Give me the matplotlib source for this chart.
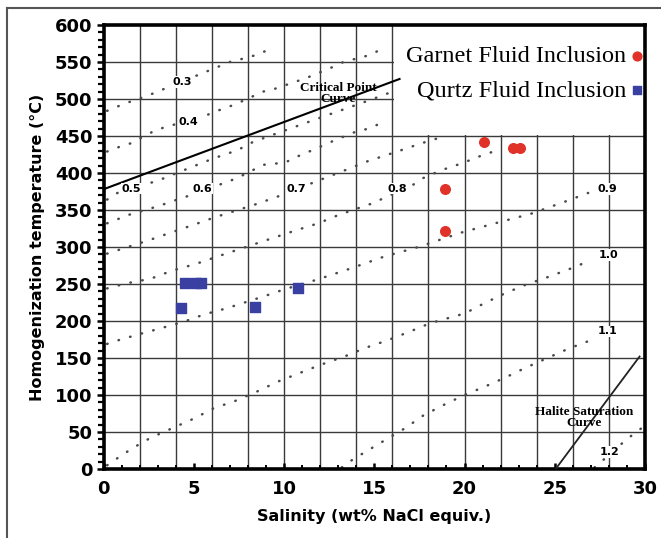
import matplotlib.pyplot as plt
from matplotlib.patches import Rectangle
from matplotlib.lines import Line2D
from matplotlib.ticker import MultipleLocator

# fluid inclusion data
garnet_sal = [18.9, 18.9, 21.1, 22.7, 23.1]
garnet_th = [321, 379, 442, 434, 434]
quartz_sal = [4.5, 5.1, 5.4, 4.3, 8.4, 10.8]
quartz_th = [251, 251, 251, 218, 219, 245]

# density isochores (g/cm3)
iso_03_x = [0.2, 1.2, 2.4, 3.8, 5.7, 7.0, 7.65, 8.4, 9.0]
iso_03_t = [484, 494, 504, 518, 537, 550, 554, 559, 565]
iso_04_x = [0.2, 0.85, 1.5, 2.9, 3.3, 5.7, 6.3, 6.9, 7.5, 8.85, 9.4, 11.2, 12.5, 13.3, 14.7, 15.3]
iso_04_t = [429, 435, 440, 458, 461, 478, 484, 489, 495, 510, 513, 528, 541, 550, 559, 566]
iso_05_x = [0.2, 0.65, 3.05, 5.6, 6.25, 7.45, 8.1, 8.75, 12.5, 14.7, 15.8]
iso_05_t = [364, 372, 390, 415, 421, 431, 440, 446, 479, 498, 508]
iso_06_x = [0.2, 0.65, 1.2, 3.15, 3.7, 4.35, 6.75, 7.4, 8.85, 10.05, 10.9, 11.5, 12.7, 14.0, 14.7, 15.25]
iso_06_t = [332, 336, 342, 356, 361, 366, 387, 393, 411, 414, 424, 430, 443, 456, 460, 466]
iso_07_x = [0.2, 2.5, 3.8, 5.0, 6.15, 7.45, 8.6, 9.75, 12.35, 13.0, 14.65, 16.4, 17.6, 18.8]
iso_07_t = [291, 309, 320, 330, 340, 350, 359, 369, 394, 400, 416, 430, 440, 449]
iso_08_x = [0.2, 1.3, 2.6, 3.8, 5.1, 6.3, 7.4, 10.6, 11.9, 13.0, 14.9, 17.15, 17.7, 18.75, 19.85, 21.1, 21.75]
iso_08_t = [244, 251, 257, 268, 277, 287, 296, 322, 332, 343, 359, 384, 393, 404, 413, 425, 430]
iso_09_x = [0.2, 0.55, 1.95, 3.15, 4.45, 5.6, 6.8, 8.85, 10.05, 11.85, 13.7, 15.55, 17.45, 19.9, 21.85, 23.7, 25.65, 26.85]
iso_09_t = [169, 172, 182, 190, 199, 209, 217, 233, 243, 256, 271, 287, 300, 320, 333, 345, 362, 373]
iso_10_x = [0.2, 0.55, 1.6, 2.6, 3.8, 5.0, 6.1, 7.3, 8.45, 9.65, 10.9, 12.05, 13.35, 14.55, 15.75,
            16.9, 18.1, 19.4, 20.0, 21.1, 22.3, 23.5, 24.7, 25.9, 26.6]
iso_10_t = [5, 11, 28, 42, 55, 68, 82, 92, 104, 118, 130, 141, 152, 164, 174,
            185, 197, 206, 210, 224, 238, 250, 260, 271, 278]
iso_11_x = [13.2, 13.5, 14.5, 15.6, 16.7, 17.7, 18.8, 20.0, 21.1, 22.3, 23.4, 24.6, 25.8, 27.0]
iso_11_t = [2, 8, 23, 39, 55, 72, 86, 100, 111, 124, 137, 150, 163, 174]
iso_12_x = [27.2, 27.5, 28.4, 29.3, 29.8]
iso_12_t = [2, 8, 28, 46, 55]

iso_labels = ['0.3', '0.4', '0.5', '0.6', '0.7', '0.8', '0.9', '1.0', '1.1', '1.2']
iso_label_x = [4.35, 4.7, 1.55, 5.5, 10.7, 16.3, 27.9, 28.0, 27.95, 28.05]
iso_label_t = [523, 469, 379, 379, 379, 379, 378, 289, 186, 23]

crit_x = [0, 16.4]
crit_t = [378, 527]
halite_x = [25.05, 29.7]
halite_t = [0, 152]

fig = plt.figure(figsize=(6.61, 5.38), dpi=100)
ax = fig.add_axes([0.1566, 0.1283, 0.8192, 0.8253])

ax.set_xlim(0, 30)
ax.set_ylim(0, 600)

ax.xaxis.set_major_locator(MultipleLocator(5))
ax.yaxis.set_major_locator(MultipleLocator(50))
ax.xaxis.set_minor_locator(MultipleLocator(1))
ax.yaxis.set_minor_locator(MultipleLocator(10))

# grid every 2 wt% and 50 C
for gx in range(2, 30, 2):
    ax.axvline(gx, color='#3a3a3a', lw=1.0, zorder=0)
for gy in range(50, 600, 50):
    ax.axhline(gy, color='#3a3a3a', lw=1.0, zorder=0)

# blank area behind the legend
ax.add_patch(Rectangle((16.12, 451.2), 13.88, 148.8, facecolor='white', edgecolor='none', zorder=1))

dotted = dict(color='#4a4a4a', lw=1.8, linestyle=(0, (0.2, 4.6)), dash_capstyle='round', zorder=2)
for xs, ts in [(iso_03_x, iso_03_t), (iso_04_x, iso_04_t), (iso_05_x, iso_05_t),
               (iso_06_x, iso_06_t), (iso_07_x, iso_07_t), (iso_08_x, iso_08_t),
               (iso_09_x, iso_09_t), (iso_10_x, iso_10_t), (iso_11_x, iso_11_t),
               (iso_12_x, iso_12_t)]:
    ax.plot(xs, ts, **dotted)

ax.plot(crit_x, crit_t, color='black', lw=1.5, zorder=3)
ax.plot(halite_x, halite_t, color='#222222', lw=1.3, zorder=3)

for lab, lx, lt in zip(iso_labels, iso_label_x, iso_label_t):
    ax.text(lx, lt, lab, fontsize=8, fontweight='bold', ha='center', va='center', zorder=4,
            bbox=dict(facecolor='white', edgecolor='none', pad=0.6))

ax.text(13.0, 507, 'Critical Point\nCurve', fontsize=9.5, fontweight='bold', family='Liberation Serif',
        ha='center', va='center', linespacing=0.9, zorder=4)
ax.text(26.6, 69, 'Halite Saturation\nCurve', fontsize=9.5, fontweight='bold', family='Liberation Serif',
        ha='center', va='center', linespacing=0.9, zorder=4)

ax.scatter(garnet_sal, garnet_th, s=48, marker='o', color='#e03228', zorder=5,
           label='Garnet Fluid Inclusion')
ax.scatter(quartz_sal, quartz_th, s=50, marker='s', color='#3a3fa2', zorder=5,
           label='Qurtz Fluid Inclusion')

leg = ax.legend(loc='upper right', bbox_to_anchor=(0.999, 0.955), markerfirst=False, frameon=False,
                prop={'family': 'Liberation Serif', 'size': 17.5}, handlelength=0.6,
                handletextpad=0.15, labelspacing=0.5, borderaxespad=0, borderpad=0)
for h in leg.legend_handles:
    h.set_sizes([40])

for sp in ax.spines.values():
    sp.set_linewidth(2.6)
    sp.set_color('black')

ax.tick_params(axis='both', which='major', labelsize=13, width=1.8)
ax.tick_params(axis='y', which='major', direction='out', length=5, pad=3)
ax.tick_params(axis='y', which='minor', direction='out', length=4, width=1.6)
ax.tick_params(axis='x', which='major', direction='in', length=4, pad=8)
ax.tick_params(axis='x', which='minor', direction='in', length=3, width=1.4)
for lbl in ax.get_xticklabels() + ax.get_yticklabels():
    lbl.set_fontweight('bold')

ax.set_xlabel('Salinity (wt% NaCl equiv.)', fontsize=11.5, fontweight='bold', labelpad=8)
ax.set_ylabel('Homogenization temperature (\u00b0C)', fontsize=11.5, fontweight='bold', labelpad=7)

# thin frame around the whole picture
fig.add_artist(Line2D([7 / 661, 7 / 661], [0, 1 - 8 / 538], transform=fig.transFigure, color='#555555', lw=1.5))
fig.add_artist(Line2D([7 / 661, 1], [1 - 8 / 538, 1 - 8 / 538], transform=fig.transFigure, color='#555555', lw=1.5))

fig.savefig('out.png', dpi=100)
